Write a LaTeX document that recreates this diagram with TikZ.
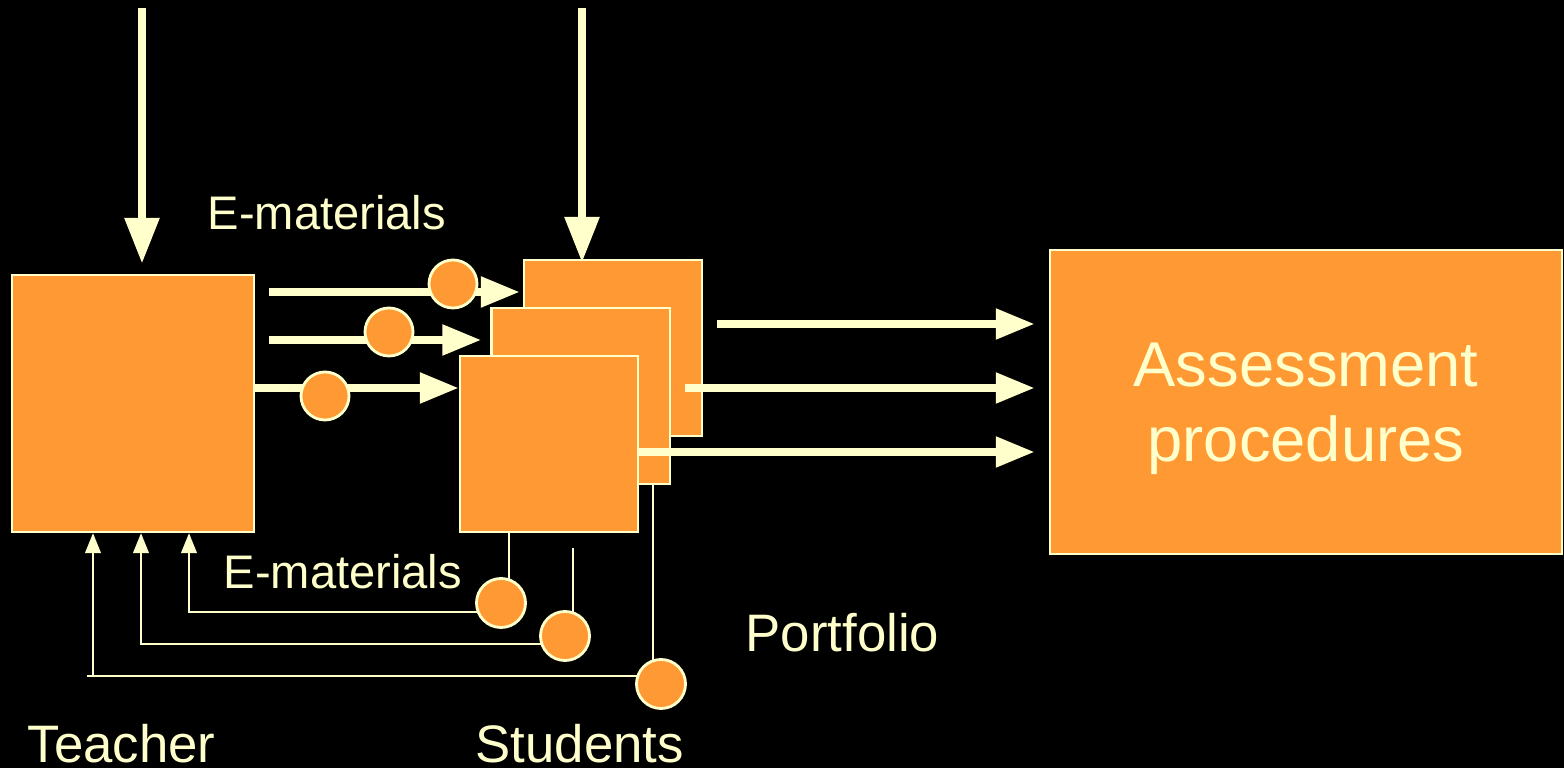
\documentclass[tikz,border=0pt]{standalone}
\usepackage{fontspec}
\setmainfont{Liberation Sans}
\usetikzlibrary{arrows.meta,calc}
\definecolor{paleyellow}{HTML}{FFFFCC}
\definecolor{boxorange}{HTML}{FF9933}
\tikzset{
  bigarrow/.style={-{Triangle[length=3.9mm, width=2.9mm]}, line width=2.3pt, paleyellow},
  droparrow/.style={-{Triangle[length=4.6mm, width=3.3mm]}, line width=2.5pt, paleyellow},
  backarrow/.style={-{Triangle[length=2.0mm, width=1.55mm]}, line width=0.7pt, paleyellow},
  backline/.style={line width=0.7pt, paleyellow},
  block/.style={draw=paleyellow, line width=0.6pt, fill=boxorange, inner sep=0pt},
  stubox/.style={block, minimum width=1.78cm, minimum height=1.76cm},
  token/.style={circle, draw=paleyellow, line width=0.8pt, fill=boxorange, minimum size=0.48cm, inner sep=0pt},
  caption/.style={text=paleyellow, inner sep=0pt, anchor=base west}
}
\begin{document}
\begin{tikzpicture}[x=0.01cm, y=-0.01cm, every node/.style={font=\fontsize{13.4}{16}\selectfont}]
  \useasboundingbox (0,0) rectangle (1564,768);
  \fill[black] (0,0) rectangle (1564,768);
  % boxes
  \node[block, minimum width=2.42cm, minimum height=2.57cm] (teacher) at (133,403.5) {};
  \node[stubox] (stuback) at (613,348) {};
  \node[stubox] (stumid) at (580.5,396) {};
  \node[stubox] (stufront) at (549,444) {};
  \node[block, minimum width=5.12cm, minimum height=3.04cm, text=paleyellow, align=center,
        text depth=0pt, font=\fontsize{18}{21.2}\selectfont] (assess) at (1306,402) {Assessment\\procedures};
  % arrows from above
  \coordinate (topT) at (142,8);
  \coordinate (topS) at (582,8);
  \draw[droparrow] (topT) -- ($(teacher.north -| topT)+(0,-10)$);
  \draw[droparrow] (topS) -- ($(stuback.north -| topS)+(0,4)$);
  % e-materials to the students
  \coordinate (e1) at (269,292);
  \coordinate (e2) at (269,340);
  \coordinate (e3) at (253,388);
  \draw[bigarrow] (e1) -- ($(stuback.west |- e1)+(-3,0)$);
  \draw[bigarrow] (e2) -- ($(stumid.west |- e2)+(-9,0)$);
  \draw[bigarrow] (e3) -- (stufront.west |- e3);
  \node[token] (m1) at (453,284) {};
  \node[token] (m2) at (389,332) {};
  \node[token] (m3) at (325,396) {};
  % students to assessment
  \coordinate (o1) at (717,324);
  \coordinate (o2) at (685,388);
  \coordinate (o3) at (637,452);
  \draw[bigarrow] (o1) -- ($(assess.west |- o1)+(-14,0)$);
  \draw[bigarrow] (o2) -- ($(assess.west |- o2)+(-14,0)$);
  \draw[bigarrow] (o3) -- ($(assess.west |- o3)+(-14,0)$);
  % feedback to the teacher
  \coordinate (r1) at (501,603);
  \coordinate (r2) at (565,636);
  \coordinate (r3) at (661,684);
  \draw[backline] ($(r1)+(8,0)$) -- ($(stufront.south -| r1)+(8,0)$);
  \draw[backline] ($(r2)+(8,0)$) -- ($(r2)+(8,-88)$);
  \draw[backline] ($(r3)+(-8,0)$) -- ($(stumid.south -| r3)+(-8,0)$);
  \draw[backarrow] ($(r1)+(0,9)$) -| ($(teacher.south)+(56,0)$);
  \draw[backarrow] ($(r2)+(0,8)$) -| ($(teacher.south)+(8,0)$);
  \draw[backline] ($(r3)+(0,-8)$) -- ++(-574,0);
  \draw[backarrow] ($(teacher.south)+(-40,144)$) -- ($(teacher.south)+(-40,0)$);
  \node[token, minimum size=0.49cm] (p1) at (r1) {};
  \node[token, minimum size=0.49cm] (p2) at (r2) {};
  \node[token, minimum size=0.49cm] (p3) at (r3) {};
  % labels
  \node[caption] (emtop) at (207,230) {E-materials};
  \node[caption] (embot) at (223,589) {E-materials};
  \node[caption, font=\fontsize{15}{18}\selectfont] (portfolio) at (745,652) {Portfolio};
  \node[caption, font=\fontsize{15}{18}\selectfont] (teacherlbl) at (27,763) {Teacher};
  \node[caption, font=\fontsize{15}{18}\selectfont] (studentlbl) at (475,763) {Students};
\end{tikzpicture}
\end{document}
